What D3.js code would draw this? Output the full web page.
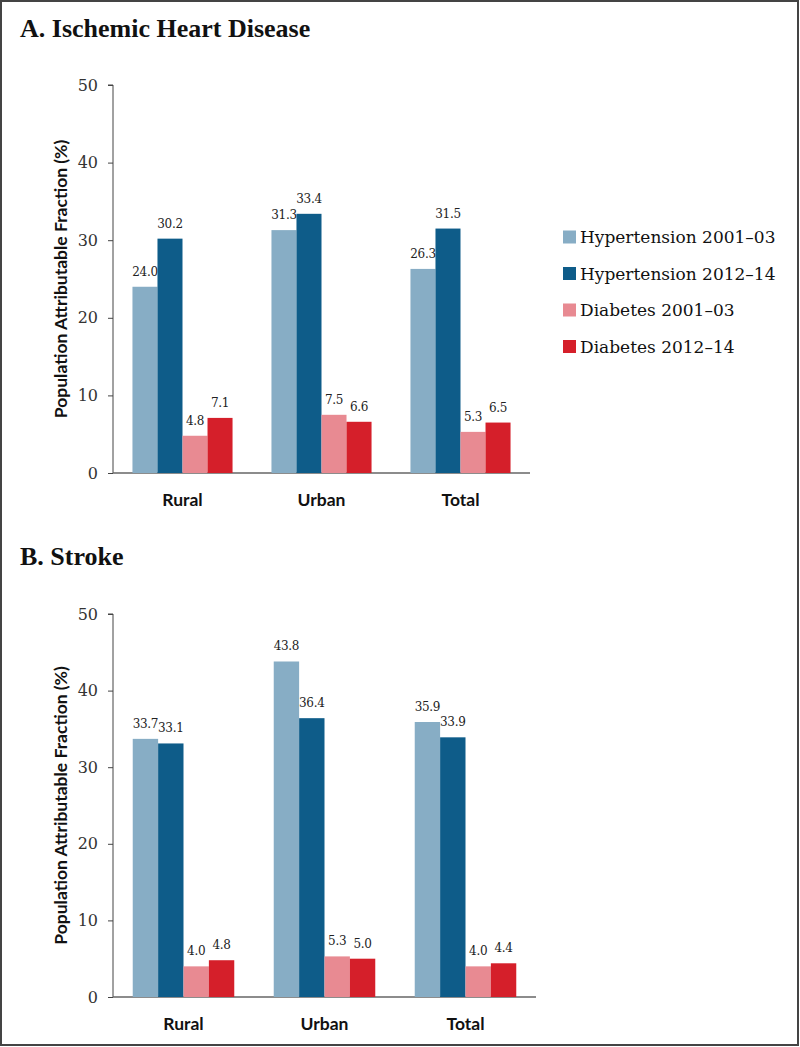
<!DOCTYPE html>
<html><head><meta charset="utf-8">
<script src="https://cdn.jsdelivr.net/npm/d3@7"></script>
<style>body{margin:0;background:#fff}svg{display:block}</style>
</head><body><svg id="c" width="800" height="1047"></svg>
<script>
const categories = ["Rural", "Urban", "Total"];
const seriesNames = ["Hypertension 2001\u201303", "Hypertension 2012\u201314", "Diabetes 2001\u201303", "Diabetes 2012\u201314"];
const seriesColors = ["#87adc5", "#0e5c89", "#e88a92", "#d51f2a"];
const ihdHyp0103 = [24.0, 31.3, 26.3];
const ihdHyp1214 = [30.2, 33.4, 31.5];
const ihdDia0103 = [4.8, 7.5, 5.3];
const ihdDia1214 = [7.1, 6.6, 6.5];
const strHyp0103 = [33.7, 43.8, 35.9];
const strHyp1214 = [33.1, 36.4, 33.9];
const strDia0103 = [4.0, 5.3, 4.0];
const strDia1214 = [4.8, 5.0, 4.4];
const yTicks = [0, 10, 20, 30, 40, 50];

const svg = d3.select("#c");
svg.append("rect").attr("x", 1).attr("y", 1).attr("width", 797).attr("height", 1044)
  .attr("fill", "none").attr("stroke", "#444").attr("stroke-width", 2);

function panel(title, titleY, top, bottom, right, series) {
  const g = svg.append("g");
  g.append("text").attr("x", 20).attr("y", titleY).text(title)
    .attr("font-family", "Liberation Serif").attr("font-weight", "bold").attr("font-size", 26).attr("fill", "#111");
  const x0 = d3.scaleBand().domain(categories).range([113, right]).paddingInner(0.28).paddingOuter(0.14);
  const x1 = d3.scaleBand().domain(seriesNames).range([0, x0.bandwidth()]);
  const y = d3.scaleLinear().domain([0, 50]).range([bottom, top]);
  const yAxis = g.append("g").attr("transform", "translate(113,0)")
    .call(d3.axisLeft(y).tickValues(yTicks).tickSize(5).tickPadding(10).tickFormat(d3.format("d")));
  yAxis.select(".domain").attr("stroke", "#444").attr("d", `M-5,${top}H0V${bottom}`);
  yAxis.selectAll(".tick line").attr("stroke", "#444");
  yAxis.selectAll("text").attr("font-family", "DejaVu Serif").attr("font-size", 16).attr("fill", "#333");
  const xAxis = g.append("g").attr("transform", `translate(0,${bottom})`)
    .call(d3.axisBottom(x0).tickSize(0).tickPadding(21));
  xAxis.select(".domain").attr("stroke", "#666").attr("stroke-width", 1.3).attr("d", `M113,0H${right}`);
  xAxis.selectAll("text").attr("font-family", "Lato").attr("font-weight", "bold").attr("font-size", 17.5).attr("fill", "#111");
  g.append("text").attr("transform", `translate(67,${(top + bottom) / 2}) rotate(-90)`)
    .attr("text-anchor", "middle").text("Population Attributable Fraction (%)")
    .attr("font-family", "Lato").attr("font-weight", "bold").attr("font-size", 17.5).attr("fill", "#111");
  const groups = g.selectAll(".grp").data(categories).join("g")
    .attr("transform", d => `translate(${x0(d)},0)`);
  groups.each(function (cat, ci) {
    const gg = d3.select(this);
    seriesNames.forEach((s, si) => {
      const v = series[si][ci];
      gg.append("rect").attr("x", x1(s)).attr("width", x1.bandwidth()).attr("y", y(v))
        .attr("height", bottom - y(v)).attr("fill", seriesColors[si]);
      gg.append("text").attr("x", x1(s) + x1.bandwidth() / 2).attr("y", y(v) - 11)
        .attr("text-anchor", "middle").text(d3.format(".1f")(v))
        .attr("font-family", "DejaVu Serif").attr("font-size", 12).attr("letter-spacing", -0.3).attr("fill", "#222");
    });
  });
}

panel("A. Ischemic Heart Disease", 37, 85, 473, 530, [ihdHyp0103, ihdHyp1214, ihdDia0103, ihdDia1214]);
panel("B. Stroke", 565, 614, 997, 536, [strHyp0103, strHyp1214, strDia0103, strDia1214]);

const leg = svg.append("g").selectAll("g").data(seriesNames).join("g")
  .attr("transform", (d, i) => `translate(563,${237 + i * 36.5})`);
leg.append("rect").attr("x", 0).attr("y", -6.5).attr("width", 13).attr("height", 13)
  .attr("fill", (d, i) => seriesColors[i]);
leg.append("text").attr("x", 17).attr("y", 6).text(d => d)
  .attr("font-family", "DejaVu Serif").attr("font-size", 17).attr("fill", "#111");
</script></body></html>
